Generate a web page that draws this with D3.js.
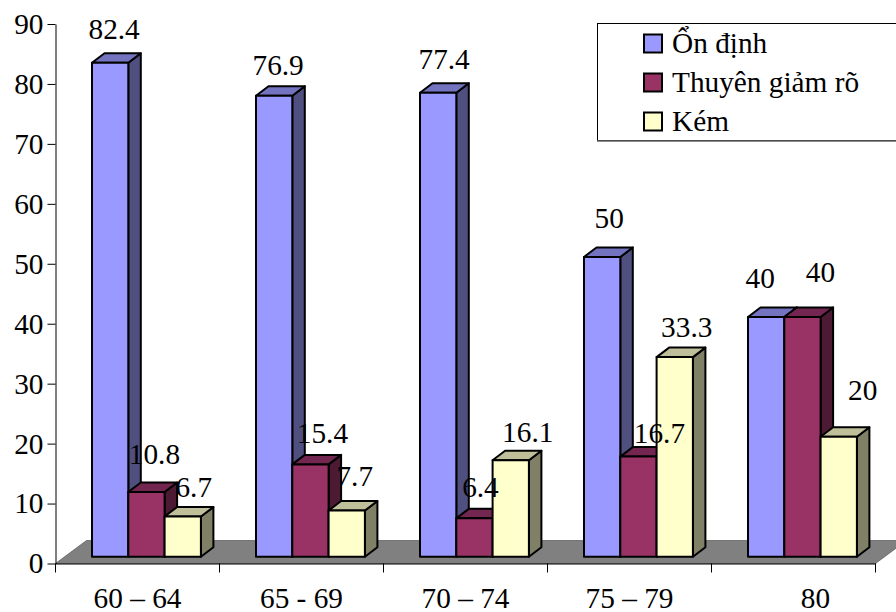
<!DOCTYPE html>
<html>
<head>
<meta charset="utf-8">
<script src="https://cdn.jsdelivr.net/npm/d3@7"></script>
<style>
	html, body { margin: 0; padding: 0; background: #fff; overflow: hidden; }
	svg { display: block; }
</style>
</head>
<body>
<svg class="chart"></svg>
<script>

const categories = ["60 – 64", "65 - 69", "70 – 74", "75 – 79", "80"]
const seriesNames = ["Ổn định", "Thuyên giảm rõ", "Kém"]
const onDinh = [82.4, 76.9, 77.4, 50, 40]
const thuyenGiam = [10.8, 15.4, 6.4, 16.7, 40]
const kem = [6.7, 7.7, 16.1, 33.3, 20]
const yTicks = [0, 10, 20, 30, 40, 50, 60, 70, 80, 90]

const width = 896, height = 612
const serif = "'Liberation Serif'"
const fontSize = "29.3px"

// face colours per series: front, top, side
const faces = [
	{ front: "#9999ff", top: "#7373bf", side: "#4f4f80" },
	{ front: "#993366", top: "#732650", side: "#4d1a33" },
	{ front: "#ffffcc", top: "#bfbf99", side: "#808066" }
]

// hand placed label nudges, series by category (from the default spot above the bar)
const nudges = [
	[[4, 0], [4, 3], [6, 0], [7, -5], [-6, -5]],
	[[8, -4], [12, 3], [6, 3], [21, 10], [18, -11]],
	[[11, 4], [8, -1], [17, 6], [12, 4], [24, -13]]
]

const chart = d3.select(".chart")
	.attr("width", width)
	.attr("height", height)

const depth = { x: 12.5, y: 9.5 }
const floorDepth = { x: 31, y: 23 }

const x = d3.scaleBand().domain(categories).range([55.5, 875.5])
const xInner = d3.scaleBand().domain(d3.range(3)).range([36.5, 145.4])
const y = d3.scaleLinear().domain([0, 90]).range([563.5, 24])
const baseY = 556.7

const series = [onDinh, thuyenGiam, kem]

// floor of the 3d box, its far right corner runs off the page
chart.append("path")
	.attr("d", d3.line()([
		[55.5, y(0)],
		[55.5 + floorDepth.x, y(0) - floorDepth.y],
		[875.5 + floorDepth.x, y(0) - floorDepth.y],
		[875.5, y(0)]
	]) + "Z")
	.attr("fill", "#808080")
	.attr("stroke", "#555")
	.attr("stroke-width", 0.7)

// axes
const yAxis = d3.axisLeft(y).tickValues(yTicks).tickSize(8).tickPadding(4).tickSizeOuter(0)
const yG = chart.append("g").attr("transform", "translate(55.5,0)").call(yAxis)
yG.selectAll("text")
	.style("font-family", serif)
	.style("font-size", fontSize)
	.attr("dy", "0.32em")

const xAxis = d3.axisBottom(x).tickSize(0)
const xG = chart.append("g").attr("transform", "translate(0," + y(0) + ")").call(xAxis)
xG.selectAll("text")
	.style("font-family", serif)
	.style("font-size", fontSize)
	.attr("dy", 0)
	.attr("y", 44)
	.attr("x", d => d === "80" ? 22 : 0) // last label sits right of its band centre

xG.selectAll(".sep")
	.data(categories.map(d => x(d)).concat([x.range()[1]]))
	.enter()
	.append("line")
		.attr("class", "sep")
		.attr("x1", d => d)
		.attr("x2", d => d)
		.attr("y1", 0)
		.attr("y2", 9)
		.attr("stroke", "#000")

chart.selectAll(".domain, .tick line").attr("stroke", "#000")

// bars, left to right so the next bar covers the side of the previous
const barH = v => y(0) - y(v)

categories.forEach((cat, c) => {
	series.forEach((vals, s) => {
		const x0 = x(cat) + xInner(s),
				x1 = x0 + xInner.bandwidth(),
				top = baseY - barH(vals[c]),
				dx = depth.x, dy = depth.y

		const g = chart.append("g").attr("class", "bar")
			.attr("stroke", "#000")
			.attr("stroke-width", 2)
			.attr("stroke-linejoin", "round")

		g.append("path")
			.attr("fill", faces[s].side)
			.attr("d", d3.line()([[x1, top], [x1 + dx, top - dy], [x1 + dx, baseY - dy], [x1, baseY]]) + "Z")
		g.append("path")
			.attr("fill", faces[s].top)
			.attr("d", d3.line()([[x0, top], [x0 + dx, top - dy], [x1 + dx, top - dy], [x1, top]]) + "Z")
		g.append("rect")
			.attr("fill", faces[s].front)
			.attr("x", x0)
			.attr("y", top)
			.attr("width", x1 - x0)
			.attr("height", baseY - top)
	})
})

// value labels
categories.forEach((cat, c) => {
	series.forEach((vals, s) => {
		chart.append("text")
			.attr("class", "value")
			.attr("x", x(cat) + xInner(s) + xInner.bandwidth() / 2 + nudges[s][c][0])
			.attr("y", baseY - barH(vals[c]) - 24 + nudges[s][c][1])
			.attr("text-anchor", "middle")
			.style("font-family", serif)
			.style("font-size", fontSize)
			.text(vals[c])
	})
})

// legend box, darker edge along the bottom
const legend = chart.append("g").attr("class", "legend")

legend.append("rect")
	.attr("x", 597.5)
	.attr("y", 23.5)
	.attr("width", 320)
	.attr("height", 117)
	.attr("fill", "#fff")
	.attr("stroke", "#000")

legend.append("line")
	.attr("x1", 597)
	.attr("x2", width)
	.attr("y1", 141)
	.attr("y2", 141)
	.attr("stroke", "#666")
	.attr("stroke-width", 1.5)

const legendY = d3.scalePoint().domain(seriesNames).range([44, 122])

const rows = legend.selectAll(".row")
	.data(seriesNames)
	.enter()
	.append("g")
		.attr("class", "row")
		.attr("transform", d => "translate(644," + legendY(d) + ")")

rows.append("rect")
	.attr("y", -9.5)
	.attr("width", 18)
	.attr("height", 18)
	.attr("fill", (d, i) => faces[i].front)
	.attr("stroke", "#000")
	.attr("stroke-width", 2)

rows.append("text")
	.attr("x", 28)
	.attr("dy", "0.32em")
	.style("font-family", serif)
	.style("font-size", fontSize)
	.text(d => d)

</script>
</body>
</html>
